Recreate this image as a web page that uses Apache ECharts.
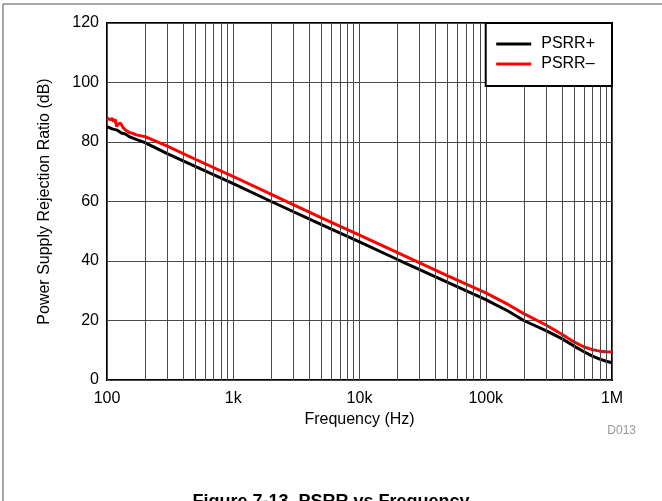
<!DOCTYPE html>
<html>
<head>
<meta charset="utf-8">
<script src="https://cdn.jsdelivr.net/npm/echarts@6/dist/echarts.min.js"></script>
<style>
  html, body { margin: 0; padding: 0; background: #fff; }
  #chart { width: 662px; height: 501px; }
</style>
</head>
<body>
<div id="chart"></div>
<script>
// ---- data ----
const plusFreq = [100, 110, 120, 130, 140, 150, 170, 200, 300, 500, 1000, 2000, 5000, 10000, 20000, 50000, 100000, 150000, 200000, 300000, 400000, 500000, 600000, 700000, 800000, 900000, 1000000];
const plusVals = [85.2, 84.4, 84.0, 83.0, 82.7, 81.8, 80.9, 79.8, 76.1, 71.8, 66.0, 60.0, 52.2, 46.4, 40.5, 32.8, 27.0, 23.2, 20.0, 16.6, 13.9, 11.4, 9.5, 8.0, 7.0, 6.3, 5.8];

const minusFreq = [100, 103, 106, 110, 113, 116, 119, 122, 125, 128, 131, 134, 137, 140, 145, 150, 160, 170, 200, 300, 500, 1000, 2000, 5000, 10000, 20000, 50000, 100000, 150000, 200000, 300000, 400000, 500000, 600000, 700000, 800000, 900000, 1000000];
const minusVals = [88.0, 88.6, 87.5, 87.9, 86.9, 87.6, 85.2, 86.0, 85.4, 86.3, 85.8, 84.9, 85.2, 84.0, 84.3, 83.2, 82.9, 82.4, 81.8, 78.6, 74.2, 68.4, 62.4, 54.5, 48.7, 42.8, 35.0, 29.3, 25.4, 22.3, 18.5, 15.4, 12.8, 11.1, 10.2, 9.7, 9.5, 9.4];

const seriesNames = ['PSRR+', 'PSRR\u2013'];
const xTickValues = [100, 1000, 10000, 100000, 1000000];
const xTickLabels = ['100', '1k', '10k', '100k', '1M'];
const minorGridFreqs = [200, 300, 400, 500, 600, 700, 800, 900,
  2000, 3000, 4000, 5000, 6000, 7000, 8000, 9000,
  20000, 30000, 40000, 50000, 60000, 70000, 80000, 90000,
  200000, 300000, 400000, 500000, 600000, 700000, 800000, 900000];

const FONT = "'Liberation Sans', Arial, Helvetica, sans-serif";
const GRIDC = '#4a4a4a';

const pairs = (xs, ys) => xs.map((x, i) => [x, ys[i]]);

const chart = echarts.init(document.getElementById('chart'), null, { renderer: 'canvas' });

chart.setOption({
  animation: false,
  backgroundColor: '#fff',
  textStyle: { fontFamily: FONT },
  title: {
    text: 'Figure 7-13. PSRR vs Frequency',
    left: 'center',
    top: 488,
    textStyle: { fontFamily: FONT, fontSize: 18, fontWeight: 'bold', color: '#000' }
  },
  grid: {
    left: 107, right: 50, top: 23, bottom: 121,
    show: true, borderColor: '#000', borderWidth: 2, backgroundColor: 'transparent'
  },
  legend: {
    data: seriesNames,
    orient: 'vertical',
    right: 50,
    top: 23,
    itemWidth: 35,
    itemHeight: 14,
    itemGap: 4,
    itemStyle: { opacity: 0 },
    lineStyle: { width: 3 },
    padding: [13, 17, 14, 9],
    backgroundColor: '#fff',
    borderColor: '#000',
    borderWidth: 2,
    borderRadius: 0,
    textStyle: { fontFamily: FONT, fontSize: 16, color: '#000', lineHeight: 16, padding: [0, 0, 0, 5] },
    z: 10
  },
  xAxis: {
    type: 'log',
    logBase: 10,
    min: 100,
    max: 1000000,
    name: 'Frequency (Hz)',
    nameLocation: 'middle',
    nameGap: 30,
    nameTextStyle: { fontFamily: FONT, fontSize: 16, color: '#000' },
    axisLine: { show: false },
    axisTick: { show: false },
    axisLabel: {
      fontFamily: FONT, fontSize: 16, color: '#000', margin: 11,
      formatter: v => {
        const i = xTickValues.findIndex(t => Math.abs(t - v) / t < 1e-6);
        return i >= 0 ? xTickLabels[i] : '';
      }
    },
    splitLine: { show: true, lineStyle: { color: GRIDC, width: 1 } }
  },
  yAxis: {
    type: 'value',
    min: 0,
    max: 120,
    interval: 20,
    name: 'Power Supply Rejection Ratio (dB)',
    nameLocation: 'middle',
    nameGap: 54,
    nameTextStyle: { fontFamily: FONT, fontSize: 16, color: '#000' },
    axisLine: { show: false },
    axisTick: { show: false },
    axisLabel: { fontFamily: FONT, fontSize: 16, color: '#000', margin: 8 },
    splitLine: { show: true, lineStyle: { color: GRIDC, width: 1 } }
  },
  series: [
    {
      name: 'minorGrid',
      type: 'line',
      data: [],
      z: 1,
      silent: true,
      markLine: {
        silent: true,
        symbol: 'none',
        label: { show: false },
        lineStyle: { type: 'solid', color: GRIDC, width: 1 },
        emphasis: { disabled: true },
        data: minorGridFreqs.map(f => ({ xAxis: f }))
      }
    },
    {
      name: seriesNames[0],
      type: 'line',
      data: pairs(plusFreq, plusVals),
      showSymbol: false,
      symbol: 'none',
      z: 3,
      lineStyle: { color: '#000', width: 3 },
      itemStyle: { color: '#000' }
    },
    {
      name: seriesNames[1],
      type: 'line',
      data: pairs(minusFreq, minusVals),
      showSymbol: false,
      symbol: 'none',
      z: 4,
      lineStyle: { color: '#ff0000', width: 3 },
      itemStyle: { color: '#ff0000' }
    }
  ],
  graphic: [
    { type: 'line', shape: { x1: 3, y1: 4, x2: 662, y2: 4 }, style: { stroke: '#8a8a8a', lineWidth: 1.5 }, silent: true },
    { type: 'line', shape: { x1: 3, y1: 4, x2: 3, y2: 501 }, style: { stroke: '#8a8a8a', lineWidth: 1.5 }, silent: true },
    { type: 'text', right: 26, top: 425, style: { text: 'D013', fill: '#999', font: "12px 'Liberation Sans', Arial, sans-serif" }, silent: true }
  ]
});
</script>
</body>
</html>
